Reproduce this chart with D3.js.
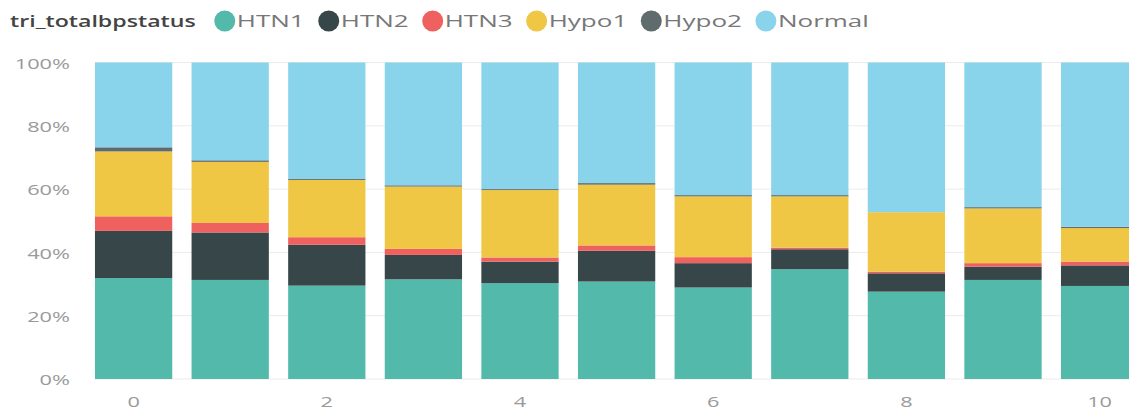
<!DOCTYPE html>
<html>
<head>
<meta charset="utf-8">
<script src="https://cdn.jsdelivr.net/npm/d3@7"></script>
<style>
  html, body { margin: 0; padding: 0; background: #fff; }
  svg { display: block; }
</style>
</head>
<body>
<svg id="chart" width="1129" height="410"></svg>
<script>
// ---- data ----
const categories = ["0","1","2","3","4","5","6","7","8","9","10"];
const tickLabels = ["0","2","4","6","8","10"];
const seriesNames = ["HTN1","HTN2","HTN3","Hypo1","Hypo2","Normal"];
const HTN1   = [31.9, 31.3, 29.5, 31.5, 30.3, 30.8, 28.9, 34.7, 27.6, 31.3, 29.4];
const HTN2   = [14.9, 15.0, 12.9,  7.7,  6.8,  9.7,  7.7,  6.3,  5.8,  4.2,  6.5];
const HTN3   = [ 4.6,  3.0,  2.4,  1.9,  1.3,  1.7,  1.9,  0.5,  0.5,  1.1,  1.2];
const Hypo1  = [20.5, 19.3, 18.1, 19.7, 21.3, 19.2, 19.2, 16.2, 18.8, 17.3, 10.6];
const Hypo2  = [ 1.3,  0.5,  0.3,  0.4,  0.3,  0.5,  0.4,  0.4,  0.0,  0.4,  0.4];
const Normal = [26.8, 30.9, 36.8, 38.8, 40.0, 38.1, 41.9, 41.9, 47.3, 45.7, 51.9];
const yTicks = [0, 0.2, 0.4, 0.6, 0.8, 1.0];
const legendTitle = "tri_totalbpstatus";
const colors = ["#52B9AB", "#374649", "#EE615E", "#F0C645", "#5F6B6D", "#8AD4EB"];

// ---- build table ----
const seriesValues = {HTN1, HTN2, HTN3, Hypo1, Hypo2, Normal};
const table = categories.map((c, i) => {
  const row = {cat: c};
  seriesNames.forEach(s => row[s] = seriesValues[s][i]);
  return row;
});
const stacked = d3.stack().keys(seriesNames).offset(d3.stackOffsetExpand)(table);

const svg = d3.select("#chart");
const SX = 1.45; // horizontal text stretch in reference
const SXL = 1.53;
const FONT = "'Open Sans', 'DejaVu Sans', sans-serif";

const x = d3.scaleBand().domain(categories).range([85.3, 1147.9])
  .paddingInner(0.2).paddingOuter(0.1);
const y = d3.scaleLinear().domain([0, 1]).range([379, 62.5]);
const color = d3.scaleOrdinal().domain(seriesNames).range(colors);

// gridlines
svg.append("g").selectAll("line").data(yTicks).join("line")
  .attr("x1", x("0")).attr("x2", 1129)
  .attr("y1", d => y(d)).attr("y2", d => y(d))
  .attr("stroke", "#ebebeb").attr("stroke-width", 1);

// bars
svg.append("g").selectAll("g").data(stacked).join("g")
  .attr("fill", d => color(d.key))
  .selectAll("rect").data(d => d).join("rect")
  .attr("x", d => x(d.data.cat))
  .attr("width", x.bandwidth())
  .attr("y", d => y(d[1]))
  .attr("height", d => Math.max(0, y(d[0]) - y(d[1])));

// stretched text helper
function stretchedText(parent, tx, ty, str, opts) {
  const g = parent.append("g").attr("transform", `translate(${tx},${ty}) scale(${opts.sx || SX},1)`);
  const t = g.append("text").text(str)
    .attr("font-family", FONT)
    .attr("font-size", opts.size)
    .attr("font-weight", opts.weight || 400)
    .attr("fill", opts.fill)
    .attr("text-anchor", opts.anchor || "start")
    .attr("dy", "0.35em");
  return t;
}

// y axis labels
const yFmt = d3.format(".0%");
const yAxisG = svg.append("g");
yTicks.forEach(v => stretchedText(yAxisG, 70, y(v) + 1, yFmt(v), {size: 15, fill: "#9a9a9a", anchor: "end"}));

// x axis labels
const xAxisG = svg.append("g");
tickLabels.forEach(c => stretchedText(xAxisG, x(c) + x.bandwidth() / 2, 402, c, {size: 15, fill: "#9a9a9a", anchor: "middle"}));

// legend
const leg = svg.append("g");
const ly = 21;
let cx = 10;
const title = stretchedText(leg, cx, ly, legendTitle, {size: 16, weight: 600, fill: "#444"});
cx += title.node().getComputedTextLength() * SX + 18;
seriesNames.forEach((s, i) => {
  leg.append("circle").attr("cx", cx + 11).attr("cy", ly).attr("r", 10.5).attr("fill", colors[i]);
  const t = stretchedText(leg, cx + 23, ly, s, {size: 17, fill: "#777", sx: SXL});
  cx += 23 + t.node().getComputedTextLength() * SXL + 13;
});
</script>
</body>
</html>
